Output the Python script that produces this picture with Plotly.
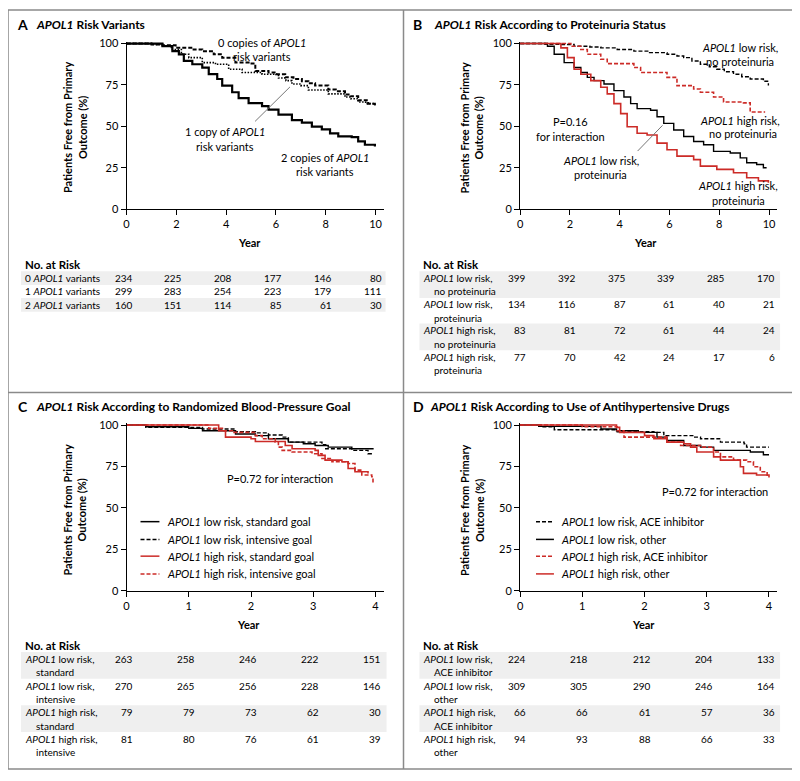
import plotly.graph_objects as go

W, H = 800, 781
OFF = 8  # page body margin around the plot div
FW, FH = W - OFF, H - OFF
FONT = "Lato"
RED = "#cc2b27"
GRAY = "#8a8a8a"
BAND = "#efefef"

# ---------------- Panel A: APOL1 risk variants (0-10 yr)
a_zero_t = [0, 1.0, 1.44, 1.97, 2.6, 3.04, 3.5, 3.84, 4.37, 4.9, 5.17, 5.7, 6.0, 6.37, 6.7, 7.04, 7.3, 7.57, 8.1, 8.4, 8.77, 9.0, 9.3, 9.7, 9.97]
a_zero_s = [100, 99.5, 99, 97.4, 96.4, 95.4, 93.5, 91.5, 88.5, 87.9, 83.5, 82.5, 81.5, 79.6, 78.6, 77.2, 76.0, 74.6, 72.2, 71.2, 69.2, 68.2, 65.7, 63.7, 62]
a_one_t = [0, 1.0, 1.44, 1.8, 2.2, 2.5, 3.04, 3.57, 4.1, 4.64, 5.44, 6.1, 6.4, 6.64, 7.0, 7.3, 8.1, 8.77, 9.0, 9.3, 9.6, 9.97]
a_one_s = [100, 99.5, 98.4, 96.4, 93.5, 91.5, 88.5, 87.5, 84.5, 82.5, 81.5, 79.2, 77.6, 75.6, 74.6, 72, 69.6, 67.7, 66.7, 64.7, 63.7, 62.7]
a_two_t = [0, 1.0, 1.44, 1.84, 2.1, 2.3, 2.64, 3.04, 3.3, 3.64, 3.84, 4.24, 4.5, 4.9, 5.44, 5.7, 6.1, 6.64, 7.04, 7.44, 7.84, 8.17, 8.5, 9.04, 9.3, 9.57, 9.97]
a_two_s = [100, 100, 98.4, 95.4, 93.5, 89.5, 87.5, 85.5, 81.5, 78.6, 74.6, 70.6, 67, 64, 62.2, 60.1, 57.1, 53.8, 52.2, 49.8, 48.2, 45.8, 43.9, 43.5, 40.9, 38.9, 37.9]
a_years = [0, 2, 4, 6, 8, 10]
a_risk_labels = ["0 <i>APOL1</i> variants", "1 <i>APOL1</i> variants", "2 <i>APOL1</i> variants"]
a_risk = [[234, 225, 208, 177, 146, 80],
          [299, 283, 254, 223, 179, 111],
          [160, 151, 114, 85, 61, 30]]

# ---------------- Panel B: proteinuria status (0-10 yr)
b_lo_np_t = [0, 1.0, 1.64, 2.17, 2.8, 3.24, 3.9, 4.57, 5.2, 5.9, 6.3, 6.57, 6.9, 7.24, 7.6, 7.9, 8.2, 8.57, 8.9, 9.24, 9.77, 9.97]
b_lo_np_s = [100, 99.6, 99.4, 98.4, 97.9, 97.4, 96.4, 95.4, 94.5, 93.5, 92.5, 91.5, 89.5, 87.5, 86, 84.5, 83, 81.5, 80, 78.6, 77.2, 74.6]
b_hi_np_t = [0, 1.5, 2.04, 2.44, 2.7, 3.24, 3.5, 4.57, 4.84, 5.9, 6.3, 6.97, 7.24, 7.77, 8.17, 8.97, 9.24, 9.84]
b_hi_np_s = [100, 100, 98.4, 96.4, 93.5, 90.5, 87.9, 85.5, 82.5, 79.6, 74.6, 72.6, 70.6, 67.7, 64.7, 64.2, 58.7, 58.7]
b_lo_p_t = [0, 1.1, 1.37, 1.77, 2.17, 2.44, 2.7, 2.97, 3.37, 3.77, 4.17, 4.44, 4.7, 5.24, 5.5, 5.77, 6.17, 6.57, 6.97, 7.37, 7.77, 8.44, 8.84, 9.1, 9.5, 9.77, 9.9]
b_lo_p_s = [100, 98.4, 93.5, 88.5, 85.5, 82.5, 79.6, 77.6, 75.6, 71.6, 67.7, 63.7, 60.7, 59.7, 55.8, 51.8, 47.8, 43.9, 40.9, 38.9, 34.9, 33.9, 31, 28, 27, 25, 25]
b_hi_p_t = [0, 1.4, 1.64, 1.9, 2.17, 2.44, 2.84, 3.24, 3.5, 3.77, 4.04, 4.3, 4.7, 5.1, 5.5, 5.9, 6.3, 6.97, 7.24, 7.9, 8.57, 9.1, 9.57, 9.97]
b_hi_p_s = [100, 100, 97.4, 91.5, 84.5, 81.5, 77.6, 73.6, 69.6, 63.7, 57.7, 49.8, 45.8, 44.8, 39.9, 35.9, 32, 29.9, 26, 24, 22, 19, 17.1, 16]
b_years = [0, 2, 4, 6, 8, 10]
b_risk_labels = [("<i>APOL1</i> low risk,", "no proteinuria"),
                 ("<i>APOL1</i> low risk,", "proteinuria"),
                 ("<i>APOL1</i> high risk,", "no proteinuria"),
                 ("<i>APOL1</i> high risk,", "proteinuria")]
b_risk = [[399, 392, 375, 339, 285, 170],
          [134, 116, 87, 61, 40, 21],
          [83, 81, 72, 61, 44, 24],
          [77, 70, 42, 24, 17, 6]]

# ---------------- Panel C: blood-pressure goal (0-4 yr)
c_lo_std_t = [0, 0.31, 1.0, 1.22, 1.75, 2.07, 2.28, 2.6, 2.84, 3.03, 3.24, 3.62, 3.97]
c_lo_std_s = [100, 99, 98, 96.6, 94.6, 93.6, 91.7, 89.7, 88.7, 87.7, 86.7, 85.7, 85.7]
c_lo_int_t = [0, 0.31, 1.22, 1.75, 2.07, 2.28, 2.5, 2.6, 3.14, 3.2, 3.62, 3.88, 3.97]
c_lo_int_s = [100, 98.6, 97.6, 96, 95.3, 94, 92.7, 89.7, 88.1, 85.7, 84.7, 82.7, 82.7]
c_hi_std_t = [0, 1.48, 1.59, 2.0, 2.07, 2.55, 2.66, 3.03, 3.08, 3.19, 3.46, 3.56, 3.67, 3.88]
c_hi_std_s = [100, 96.6, 92.7, 91.7, 90.1, 87.7, 85.7, 84.7, 81.7, 78.8, 77.8, 73.8, 71.8, 70.8]
c_hi_int_t = [0, 1.32, 1.54, 1.7, 2.07, 2.18, 2.39, 2.44, 2.5, 2.66, 2.98, 3.14, 3.3, 3.56, 3.67, 3.78, 3.94, 3.96]
c_hi_int_s = [100, 98, 96.6, 95.6, 93.6, 91.7, 89.7, 86.7, 84.7, 83.7, 82.7, 79.8, 77.8, 76.8, 72.8, 69.8, 68.8, 65.3]
c_years = [0, 1, 2, 3, 4]
c_legend = ["<i>APOL1</i> low risk, standard goal", "<i>APOL1</i> low risk, intensive goal",
            "<i>APOL1</i> high risk, standard goal", "<i>APOL1</i> high risk, intensive goal"]
c_risk_labels = [("<i>APOL1</i> low risk,", "standard"),
                 ("<i>APOL1</i> low risk,", "intensive"),
                 ("<i>APOL1</i> high risk,", "standard"),
                 ("<i>APOL1</i> high risk,", "intensive")]
c_risk = [[263, 258, 246, 222, 151],
          [270, 265, 256, 228, 146],
          [79, 79, 73, 62, 30],
          [81, 80, 76, 61, 39]]

# ---------------- Panel D: antihypertensive drugs (0-4 yr)
d_lo_ace_t = [0, 0.34, 0.55, 1.56, 2.15, 2.31, 2.79, 2.9, 3.22, 3.6, 3.64, 4.0]
d_lo_ace_s = [100, 99, 97.2, 96, 95.6, 93.6, 92.7, 91.7, 89.7, 88.7, 86.7, 86.7]
d_lo_oth_t = [0, 0.3, 1.3, 1.55, 1.9, 2.2, 2.36, 2.63, 2.9, 3.11, 3.7, 3.91, 4.0]
d_lo_oth_s = [100, 99.2, 97.6, 96.6, 95.6, 92.7, 90.7, 87.7, 86.7, 84.7, 83.7, 82.1, 82.1]
d_hi_ace_t = [0, 1.0, 1.56, 1.67, 2.36, 2.58, 2.9, 3.11, 3.22, 3.43, 3.64, 3.75, 3.86, 3.97]
d_hi_ace_s = [100, 99, 96.6, 92.7, 89.7, 87.7, 86.7, 83.7, 80.8, 78.8, 77.8, 74.8, 71.8, 68.8]
d_hi_oth_t = [0, 1.55, 1.6, 2.0, 2.15, 2.36, 2.63, 2.74, 2.84, 3.11, 3.22, 3.54, 3.59, 3.8, 4.0]
d_hi_oth_s = [100, 98.6, 95.6, 93.6, 91.7, 89.7, 88.7, 86.7, 83.7, 80.8, 78.8, 74.8, 70.8, 69.8, 68.3]
d_years = [0, 1, 2, 3, 4]
d_legend = ["<i>APOL1</i> low risk, ACE inhibitor", "<i>APOL1</i> low risk, other",
            "<i>APOL1</i> high risk, ACE inhibitor", "<i>APOL1</i> high risk, other"]
d_risk_labels = [("<i>APOL1</i> low risk,", "ACE inhibitor"),
                 ("<i>APOL1</i> low risk,", "other"),
                 ("<i>APOL1</i> high risk,", "ACE inhibitor"),
                 ("<i>APOL1</i> high risk,", "other")]
d_risk = [[224, 218, 212, 204, 133],
          [309, 305, 290, 246, 164],
          [66, 66, 61, 57, 36],
          [94, 93, 88, 66, 33]]


# page pixel -> paper fraction
def fx(px):
    return (px - OFF) / FW


def fy(py):
    return 1 - (py - OFF) / FH


fig = go.Figure()


def km(t, s, ax, color, dash, width):
    fig.add_trace(go.Scatter(
        x=t, y=s, mode="lines", xaxis="x" + ax, yaxis="y" + ax,
        line=dict(color=color, dash=dash, width=width, shape="hv"),
        showlegend=False, hoverinfo="skip"))


def txt(x, y, text, size=11, anchor="left", xref="paper", xshift=0):
    if xref == "paper":
        x = fx(x)
    fig.add_annotation(x=x, y=fy(y), xref=xref, yref="paper", text=text,
                       showarrow=False, xanchor=anchor, yanchor="middle",
                       xshift=xshift, font=dict(size=size, family=FONT, color="black"))


def hline(x0, x1, y, color="black", dash="solid", width=1.5):
    fig.add_shape(type="line", xref="paper", yref="paper", x0=fx(x0), x1=fx(x1),
                  y0=fy(y), y1=fy(y), line=dict(color=color, dash=dash, width=width))


def band(x0, x1, y0, y1):
    fig.add_shape(type="rect", xref="paper", yref="paper", x0=fx(x0), x1=fx(x1),
                  y0=fy(y1), y1=fy(y0), fillcolor=BAND, line=dict(width=0), layer="below")


# curves
km(a_zero_t, a_zero_s, "", "black", "4px,2px", 2)
km(a_one_t, a_one_s, "", "black", "1.5px,1.5px", 1.6)
km(a_two_t, a_two_s, "", "black", "solid", 2.2)

km(b_lo_np_t, b_lo_np_s, "2", "black", "4px,2px", 1.4)
km(b_hi_np_t, b_hi_np_s, "2", RED, "4px,2px", 1.6)
km(b_lo_p_t, b_lo_p_s, "2", "black", "solid", 1.4)
km(b_hi_p_t, b_hi_p_s, "2", RED, "solid", 1.6)

km(c_lo_std_t, c_lo_std_s, "3", "black", "solid", 1.4)
km(c_lo_int_t, c_lo_int_s, "3", "black", "4px,2px", 1.4)
km(c_hi_std_t, c_hi_std_s, "3", RED, "solid", 1.6)
km(c_hi_int_t, c_hi_int_s, "3", RED, "4px,2px", 1.6)

km(d_lo_ace_t, d_lo_ace_s, "4", "black", "4px,2px", 1.4)
km(d_lo_oth_t, d_lo_oth_s, "4", "black", "solid", 1.4)
km(d_hi_ace_t, d_hi_ace_s, "4", RED, "4px,2px", 1.6)
km(d_hi_oth_t, d_hi_oth_s, "4", RED, "solid", 1.6)

axis_common = dict(showline=True, linecolor="black", linewidth=1, ticks="outside",
                   ticklen=5, tickwidth=1, tickcolor="black", showgrid=False,
                   zeroline=False, fixedrange=True,
                   tickfont=dict(size=11, family=FONT, color="black"))
Y_TOP = 101
PPU = 1.68  # pixels per percent


def ydom(bottom):
    return [fy(bottom), fy(bottom - PPU * Y_TOP)]


yax = dict(range=[0, Y_TOP], tickvals=[0, 25, 50, 75, 100], **axis_common)
fig.update_layout(
    xaxis=dict(domain=[fx(124), fx(382)], range=[0, 10.32], tickvals=a_years, anchor="y", **axis_common),
    yaxis=dict(domain=ydom(207), anchor="x", **yax),
    xaxis2=dict(domain=[fx(519), fx(777)], range=[0, 10.32], tickvals=b_years, anchor="y2", **axis_common),
    yaxis2=dict(domain=ydom(207), anchor="x2", **yax),
    xaxis3=dict(domain=[fx(124), fx(382)], range=[0, 4.13], tickvals=c_years, anchor="y3", **axis_common),
    yaxis3=dict(domain=ydom(594), anchor="x3", **yax),
    xaxis4=dict(domain=[fx(519), fx(777)], range=[0, 4.13], tickvals=d_years, anchor="y4", **axis_common),
    yaxis4=dict(domain=ydom(594), anchor="x4", **yax),
)

# panel frames
fig.add_shape(type="rect", xref="paper", yref="paper", x0=fx(5), x1=fx(795), y0=fy(775), y1=fy(5),
              line=dict(color=GRAY, width=1.5))
fig.add_shape(type="line", xref="paper", yref="paper", x0=fx(402), x1=fx(402), y0=fy(775), y1=fy(5),
              line=dict(color=GRAY, width=1.5))
fig.add_shape(type="line", xref="paper", yref="paper", x0=fx(5), x1=fx(795), y0=fy(393), y1=fy(393),
              line=dict(color=GRAY, width=1.5))

# panel titles
for letter, lx, tx, ty, title in [
        ("A", 12, 31, 20, "<i>APOL1</i> Risk Variants"),
        ("B", 410, 431, 20, "<i>APOL1</i> Risk According to Proteinuria Status"),
        ("C", 13, 31, 407, "<i>APOL1</i> Risk According to Randomized Blood-Pressure Goal"),
        ("D", 410, 427, 407, "<i>APOL1</i> Risk According to Use of Antihypertensive Drugs")]:
    txt(lx, ty, "<b>%s</b>" % letter, size=14)
    txt(tx, ty, "<b>%s</b>" % title, size=12)

# axis titles
for cx, cy in [(72, 124), (470, 124), (72, 512), (471, 512)]:
    fig.add_annotation(x=fx(cx), y=fy(cy), xref="paper", yref="paper", showarrow=False,
                       xanchor="center", yanchor="middle",
                       text="<b>Patients Free from Primary<br>Outcome (%)</b>", textangle=-90,
                       font=dict(size=11, family=FONT, color="black"))
for cx, cy in [(247, 241), (645, 241), (246, 628), (643, 628)]:
    txt(cx, cy, "<b>Year</b>", anchor="center")

# panel A curve labels
txt(260, 38, "0 copies of <i>APOL1</i>", anchor="center")
txt(260, 52, "risk variants", anchor="center")
txt(223, 128, "1 copy of <i>APOL1</i>", anchor="center")
txt(223, 143, "risk variants", anchor="center")
txt(323, 155, "2 copies of <i>APOL1</i>", anchor="center")
txt(323, 169, "risk variants", anchor="center")
fig.add_shape(type="line", xref="x", yref="y", x0=5.16, y0=53, x1=6.56, y1=73.8,
              line=dict(color="#777777", width=1))

# panel B curve labels
txt(740, 43, "<i>APOL1</i> low risk,", anchor="center")
txt(740, 57, "no proteinuria", anchor="center")
txt(740, 117, "<i>APOL1</i> high risk,", anchor="center")
txt(743, 130, "no proteinuria", anchor="center")
txt(570, 118, "P=0.16", anchor="center")
txt(570, 133, "for interaction", anchor="center")
txt(600, 158, "<i>APOL1</i> low risk,", anchor="center")
txt(600, 172, "proteinuria", anchor="center")
txt(738, 183, "<i>APOL1</i> high risk,", anchor="center")
txt(738, 198, "proteinuria", anchor="center")
fig.add_shape(type="line", xref="x2", yref="y2", x0=4.72, y0=35.1, x1=5.72, y1=50.6,
              line=dict(color="#777777", width=1))

# panel C / D p-values and legends
txt(278, 480, "P=0.72 for interaction", anchor="center")
txt(715, 493, "P=0.72 for interaction", anchor="center")
c_styles = [("black", "solid"), ("black", "4px,2px"), (RED, "solid"), (RED, "4px,2px")]
d_styles = [("black", "4px,2px"), ("black", "solid"), (RED, "4px,2px"), (RED, "solid")]
for i, ly in enumerate([524, 542, 559, 577]):
    hline(138, 157, ly, color=c_styles[i][0], dash=c_styles[i][1])
    txt(163, ly, c_legend[i])
    hline(535, 553, ly, color=d_styles[i][0], dash=d_styles[i][1])
    txt(558, ly, d_legend[i])

# number-at-risk tables
TS = 10
for nx, ny in [(20, 263), (420, 263), (20, 650), (420, 650)]:
    txt(nx, ny, "<b>No. at Risk</b>", size=11.5)

for i, ry in enumerate([277, 290.5, 304]):
    if i % 2 == 0:
        band(18, 384, ry - 7, ry + 7)
    txt(20, ry, a_risk_labels[i], size=TS)
    for yr, n in zip(a_years, a_risk[i]):
        txt(yr, ry, str(n), size=TS, anchor="right", xref="x", xshift=8)


def two_line_table(rows, labels, counts, years, xlab, band_x, xr):
    for i, ry in enumerate(rows):
        if i % 2 == 0:
            band(band_x[0], band_x[1], ry - 7, ry + 20)
        txt(xlab, ry, labels[i][0], size=TS)
        txt(xlab + 11, ry + 13.5, labels[i][1], size=TS)
        for yr, n in zip(years, counts[i]):
            txt(yr, ry, str(n), size=TS, anchor="right", xref=xr, xshift=8)


two_line_table([277, 303.5, 330, 356.7], b_risk_labels, b_risk, b_years, 420, (418, 780), "x2")
two_line_table([663.3, 690.7, 717.3, 744], c_risk_labels, c_risk, c_years, 20, (18, 385), "x3")
two_line_table([663.3, 690.7, 717.3, 744], d_risk_labels, d_risk, d_years, 420, (418, 780), "x4")

fig.update_layout(width=FW, height=FH, margin=dict(l=0, r=0, t=0, b=0),
                  paper_bgcolor="white", plot_bgcolor="white",
                  font=dict(family=FONT, color="black"), showlegend=False)

fig.write_html("out.html")
